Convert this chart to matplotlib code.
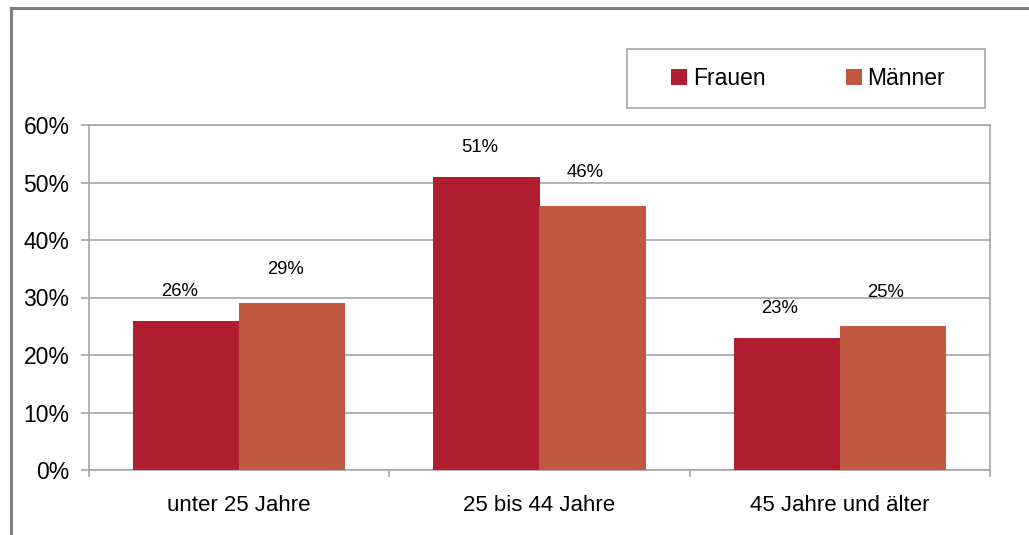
import numpy as np
import matplotlib
matplotlib.use("Agg")
import matplotlib.pyplot as plt
from matplotlib.lines import Line2D

plt.rcParams['font.family'] = ['Liberation Sans', 'DejaVu Sans']

#### data
categories = ['unter 25 Jahre', '25 bis 44 Jahre', '45 Jahre und älter']
frauen = [26, 51, 23]   # in %
maenner = [29, 46, 25]  # in %
y_ticks = [0, 10, 20, 30, 40, 50, 60]

col_f = '#B01E2F'
col_m = '#C0573F'
grid_col = '#A6A6A6'

fig = plt.figure(figsize=(10.29, 5.35), dpi=100)
ax = fig.add_axes([89/1029, 1-470/535, 901/1029, 345/535])

x = np.arange(len(categories))
w = 0.353
bf = ax.bar(x - w/2, frauen, w, color=col_f, label='Frauen', zorder=3)
bm = ax.bar(x + w/2, maenner, w, color=col_m, label='Männer', zorder=3)

# value labels above bars
for bars, vals, dy in [(bf, frauen, 21), (bm, maenner, 24)]:
    for b, v in zip(bars, vals):
        ax.annotate('%d%%' % v, (b.get_x() + b.get_width()/2, v),
                    xytext=(-5, dy), textcoords='offset points',
                    ha='center', va='center', fontsize=13.3)

ax.set_xlim(-0.5, 2.5)
ax.set_ylim(0, 60)
ax.set_yticks(y_ticks)
ax.set_yticklabels(['%d%%' % t for t in y_ticks])
ax.set_xticks(x)
ax.set_xticklabels(categories)
ax.set_xticks([-0.5, 0.5, 1.5, 2.5], minor=True)

ax.tick_params(axis='x', which='major', length=0, pad=18, labelsize=16)
ax.tick_params(axis='x', which='minor', length=5, width=1.2, color=grid_col)
ax.tick_params(axis='y', length=6, width=1.2, color=grid_col, pad=8, labelsize=16.5)

ax.yaxis.grid(True, color=grid_col, linewidth=1.2, zorder=0)
for s in ax.spines.values():
    s.set_color(grid_col)
    s.set_linewidth(1.2)

leg = ax.legend(loc='center', bbox_to_anchor=(629/1029, 1-108/535, 358/1029, 59/535),
                bbox_transform=fig.transFigure, ncol=2,
                fontsize=16.5, frameon=False, borderaxespad=0,
                handlelength=0.7, handleheight=0.7, handletextpad=0.25,
                borderpad=0.0, columnspacing=3.5)
# legend box as in the reference
fig.add_artist(plt.Rectangle((627/1029, 1-108/535), 358/1029, 59/535, transform=fig.transFigure,
                             fill=False, edgecolor=grid_col, linewidth=1.2))

# outer chart frame (only left and top visible)
fig.add_artist(Line2D([10.5/1029, 10.5/1029], [-0.1, 1-7.5/535], transform=fig.transFigure,
                      color='#808080', linewidth=2.2))
fig.add_artist(Line2D([10.5/1029, 1.1], [1-7.5/535, 1-7.5/535], transform=fig.transFigure,
                      color='#808080', linewidth=2.2))

fig.savefig('out.png', dpi=100)
